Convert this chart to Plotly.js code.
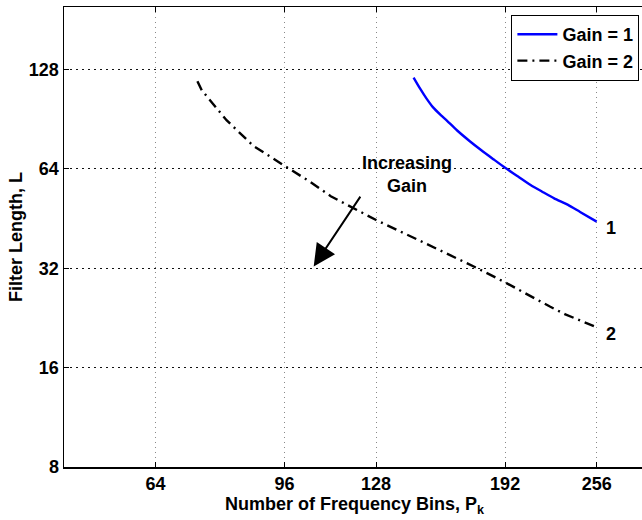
<!DOCTYPE html>
<html>
<head>
<meta charset="utf-8">
<script src="https://cdn.plot.ly/plotly-3.0.1.min.js"></script>
<style>
  html, body { margin: 0; padding: 0; overflow: hidden; background: #fff; }
  #chart { width: 650px; height: 520px; }
</style>
</head>
<body>
<div id="chart"></div>
<script>
// ---- data ----
const binsGain1 = [144, 147, 150, 153, 157, 160, 165, 172, 178, 185, 192, 200, 208, 216, 224, 234, 243, 256];
const lenGain1  = [121, 112, 104.5, 98.5, 93, 89.5, 83.8, 77.5, 73, 68.5, 64.5, 60.7, 57.2, 54.5, 52.1, 49.8, 47.4, 44.3];

const binsGain2 = [73, 74, 80, 87, 96, 104, 111, 119, 128, 144, 160, 176, 192, 200, 209, 221, 232, 244, 256];
const lenGain2  = [118, 110.8, 89.9, 75.2, 65.4, 58.5, 52.9, 48.7, 44.8, 39.6, 35.4, 32, 29, 27.6, 26.3, 24.5, 23.2, 22.2, 21.2];

const xTicks = [64, 96, 128, 192, 256];
const yTicks = [8, 16, 32, 64, 128];
const seriesNames = ['Gain = 1', 'Gain = 2'];

const FONT = 'Liberation Sans, Arial, Helvetica, sans-serif';
const L10 = Math.log10;
const boldFont = { family: FONT, size: 18, color: '#000', weight: 'bold' };

const traces = [
  { x: binsGain1, y: lenGain1, name: seriesNames[0], mode: 'lines',
    line: { color: '#0000ff', width: 2.4, shape: 'spline', smoothing: 0.6 } },
  { x: binsGain2, y: lenGain2, name: seriesNames[1], mode: 'lines',
    line: { color: '#000000', width: 2.4, dash: '10px,5px,2px,5px' } }
];

const axisCommon = {
  type: 'log',
  ticks: 'inside', ticklen: 5, tickwidth: 1, tickcolor: '#000',
  showline: true, linecolor: '#000', linewidth: 1.5, mirror: 'ticks',
  showgrid: true, gridwidth: 1,
  zeroline: false,
  tickfont: boldFont
};

const layout = {
  width: 650, height: 520,
  margin: { l: 64, r: 5, t: 7, b: 53 },
  paper_bgcolor: '#fff', plot_bgcolor: '#fff',
  font: { family: FONT, color: '#000' },
  showlegend: true,
  legend: {
    x: 0.99, xanchor: 'right', y: 0.983, yanchor: 'top',
    bgcolor: '#fff', bordercolor: '#000', borderwidth: 1.2,
    font: boldFont,
    itemwidth: 40,
    tracegroupgap: 0
  },
  xaxis: Object.assign({}, axisCommon, {
    range: [L10(48), L10(298)],
    tickvals: xTicks, ticktext: xTicks.map(String),
    gridcolor: '#888', griddash: '1px,4px',
    title: { text: 'Number of Frequency Bins, P<sub>k</sub>', standoff: 0, font: boldFont }
  }),
  yaxis: Object.assign({}, axisCommon, {
    range: [L10(8), L10(198)],
    tickvals: yTicks, ticktext: yTicks.map(String),
    gridcolor: '#111', griddash: '2px,4px',
    title: { text: 'Filter Length, L', standoff: 1, font: boldFont }
  }),
  annotations: [
    { x: L10(105.2), y: L10(32.4), ax: L10(122.2), ay: L10(53.3),
      xref: 'x', yref: 'y', axref: 'x', ayref: 'y',
      text: '', showarrow: true, arrowhead: 2, arrowsize: 2.2, arrowwidth: 2, arrowcolor: '#000' },
    { x: L10(141), y: L10(61.6), xref: 'x', yref: 'y', showarrow: false,
      text: 'Increasing<br>Gain', font: boldFont },
    { x: L10(267.9), y: L10(42.3), xref: 'x', yref: 'y', showarrow: false,
      text: '1', font: boldFont },
    { x: L10(267.9), y: L10(20.3), xref: 'x', yref: 'y', showarrow: false,
      text: '2', font: boldFont }
  ]
};

Plotly.newPlot('chart', traces, layout, { displayModeBar: false, staticPlot: true });
</script>
</body>
</html>
